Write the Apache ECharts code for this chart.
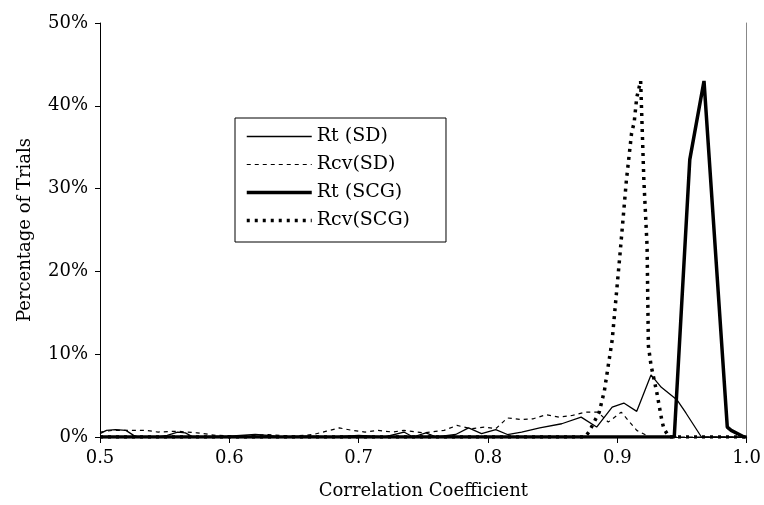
<!DOCTYPE html>
<html>
<head>
<meta charset="utf-8">
<script src="https://cdn.jsdelivr.net/npm/echarts@6/dist/echarts.min.js"></script>
<style>
    html, body { margin: 0; padding: 0; background: #FFF; }
    #chart { width: 764px; height: 505px; }
</style>
</head>
<body>
<div id="chart"></div>
<script>
// tick labels
const xTicks = [0.5, 0.6, 0.7, 0.8, 0.9, 1.0];
const yTicks = [0, 10, 20, 30, 40, 50];

// Rt (SD) - thin solid
const rtSdX = [0.500, 0.505, 0.512, 0.520, 0.526, 0.530, 0.545, 0.552, 0.560, 0.566, 0.572, 0.600, 0.620, 0.630, 0.640, 0.660, 0.680, 0.700, 0.720, 0.735, 0.742, 0.752, 0.760, 0.775, 0.785, 0.795, 0.806, 0.815, 0.826, 0.840, 0.857, 0.872, 0.884, 0.896, 0.905, 0.915, 0.926, 0.934, 0.946, 0.953, 0.965, 1.000];
const rtSdY = [0.4, 0.8, 0.9, 0.8, 0.2, 0, 0, 0.2, 0.6, 0.5, 0, 0.1, 0.3, 0.2, 0, 0.1, 0, 0.2, 0, 0.6, 0, 0.5, 0, 0.3, 1.1, 0.4, 0.9, 0.3, 0.6, 1.1, 1.6, 2.4, 1.2, 3.6, 4.1, 3.1, 7.5, 6.0, 4.5, 2.9, 0, 0];

// Rcv (SD) - thin dashed
const rcvSdX = [0.500, 0.510, 0.520, 0.535, 0.545, 0.560, 0.575, 0.590, 0.610, 0.630, 0.650, 0.665, 0.675, 0.685, 0.695, 0.705, 0.715, 0.726, 0.735, 0.750, 0.766, 0.776, 0.787, 0.797, 0.806, 0.815, 0.826, 0.835, 0.845, 0.855, 0.865, 0.875, 0.885, 0.893, 0.903, 0.915, 0.925, 1.000];
const rcvSdY = [0.6, 0.8, 0.8, 0.8, 0.6, 0.7, 0.5, 0.2, 0.1, 0.3, 0.1, 0.3, 0.7, 1.1, 0.8, 0.6, 0.8, 0.6, 0.8, 0.5, 0.8, 1.4, 1.0, 1.2, 1.0, 2.3, 2.1, 2.2, 2.7, 2.4, 2.6, 3.0, 3.0, 1.8, 3.0, 0.8, 0, 0];

// Rt (SCG) - thick solid
const rtScgX = [0.500, 0.944, 0.956, 0.967, 0.985, 0.988, 0.998, 1.000];
const rtScgY = [0, 0, 33.5, 43, 1.2, 0.8, 0, 0];

// Rcv (SCG) - thick dotted
const rcvScgX = [0.500, 0.875, 0.878, 0.886, 0.890, 0.896, 0.902, 0.907, 0.911, 0.913, 0.915, 0.918, 0.9205, 0.923, 0.924, 0.926, 0.9306, 0.9344, 0.936, 0.940, 1.000];
const rcvScgY = [0, 0, 0.6, 3.0, 5.6, 11.7, 22, 31, 36.7, 38, 41, 43, 31, 23, 11, 8.7, 5.3, 2, 1, 0, 0];

const seriesNames = ['Rt (SD)', 'Rcv(SD)', 'Rt (SCG)', 'Rcv(SCG)'];

const FONT = 'DejaVu Serif';

// line looks, shared by series and legend
const lineLooks = [
    { color: '#000', width: 1.3, type: 'solid' },
    { color: '#000', width: 1.2, type: [4, 4] },
    { color: '#000', width: 3.5, type: 'solid' },
    { color: '#000', width: 3.5, type: [3, 5] }
];

function zip(xs, ys) {
    return xs.map((x, i) => [x, ys[i]]);
}

function makeSeries(idx, xs, ys) {
    return {
        name: seriesNames[idx],
        type: 'line',
        data: zip(xs, ys),
        symbol: 'none',
        smooth: false,
        lineStyle: lineLooks[idx],
        itemStyle: { color: '#000' },
        z: 3
    };
}

function generateOption() {
    return {
        animation: false,
        backgroundColor: '#FFF',
        grid: { left: 100, right: 16, top: 23, bottom: 68 },
        legend: {
            data: seriesNames.map((n, i) => ({
                name: n,
                lineStyle: lineLooks[i],
                itemStyle: { opacity: 0 }
            })),
            orient: 'vertical',
            left: 235,
            top: 118,
            itemWidth: 65,
            itemHeight: 14,
            itemGap: 9,
            padding: [9, 36, 12, 10],
            borderColor: '#000',
            borderWidth: 1,
            backgroundColor: '#FFF',
            itemStyle: { opacity: 0 },
            textStyle: { fontFamily: FONT, fontSize: 19, color: '#000' }
        },
        xAxis: {
            type: 'value',
            min: xTicks[0],
            max: xTicks[xTicks.length - 1],
            interval: 0.1,
            name: 'Correlation Coefficient',
            nameLocation: 'middle',
            nameGap: 45,
            nameTextStyle: { fontFamily: FONT, fontSize: 18, color: '#000' },
            axisLine: { lineStyle: { color: '#000', width: 1 } },
            axisTick: { show: true, length: 6, lineStyle: { color: '#000' } },
            axisLabel: {
                margin: 12,
                fontFamily: FONT, fontSize: 18, color: '#000',
                formatter: (v) => v.toFixed(1)
            },
            splitLine: { show: false }
        },
        yAxis: [
            {
                type: 'value',
                min: yTicks[0],
                max: yTicks[yTicks.length - 1],
                interval: 10,
                name: 'Percentage of Trials',
                nameLocation: 'middle',
                nameGap: 66,
                nameTextStyle: { fontFamily: FONT, fontSize: 18, color: '#000' },
                axisLine: { show: true, lineStyle: { color: '#000', width: 1 } },
                axisTick: { show: true, length: 5, lineStyle: { color: '#000' } },
                axisLabel: {
                    margin: 12,
                    fontFamily: FONT, fontSize: 18, color: '#000',
                    formatter: '{value}%'
                },
                splitLine: { show: false }
            },
            {
                // right frame line only
                type: 'value',
                position: 'right',
                min: yTicks[0],
                max: yTicks[yTicks.length - 1],
                interval: 10,
                axisLine: { show: true, lineStyle: { color: '#888', width: 1 } },
                axisTick: { show: false },
                axisLabel: { show: false },
                splitLine: { show: false }
            }
        ],
        series: [
            makeSeries(0, rtSdX, rtSdY),
            makeSeries(1, rcvSdX, rcvSdY),
            makeSeries(2, rtScgX, rtScgY),
            makeSeries(3, rcvScgX, rcvScgY)
        ]
    };
}

const myChart = echarts.init(document.getElementById('chart'), null, { renderer: 'canvas' });
myChart.setOption(generateOption());
</script>
</body>
</html>
